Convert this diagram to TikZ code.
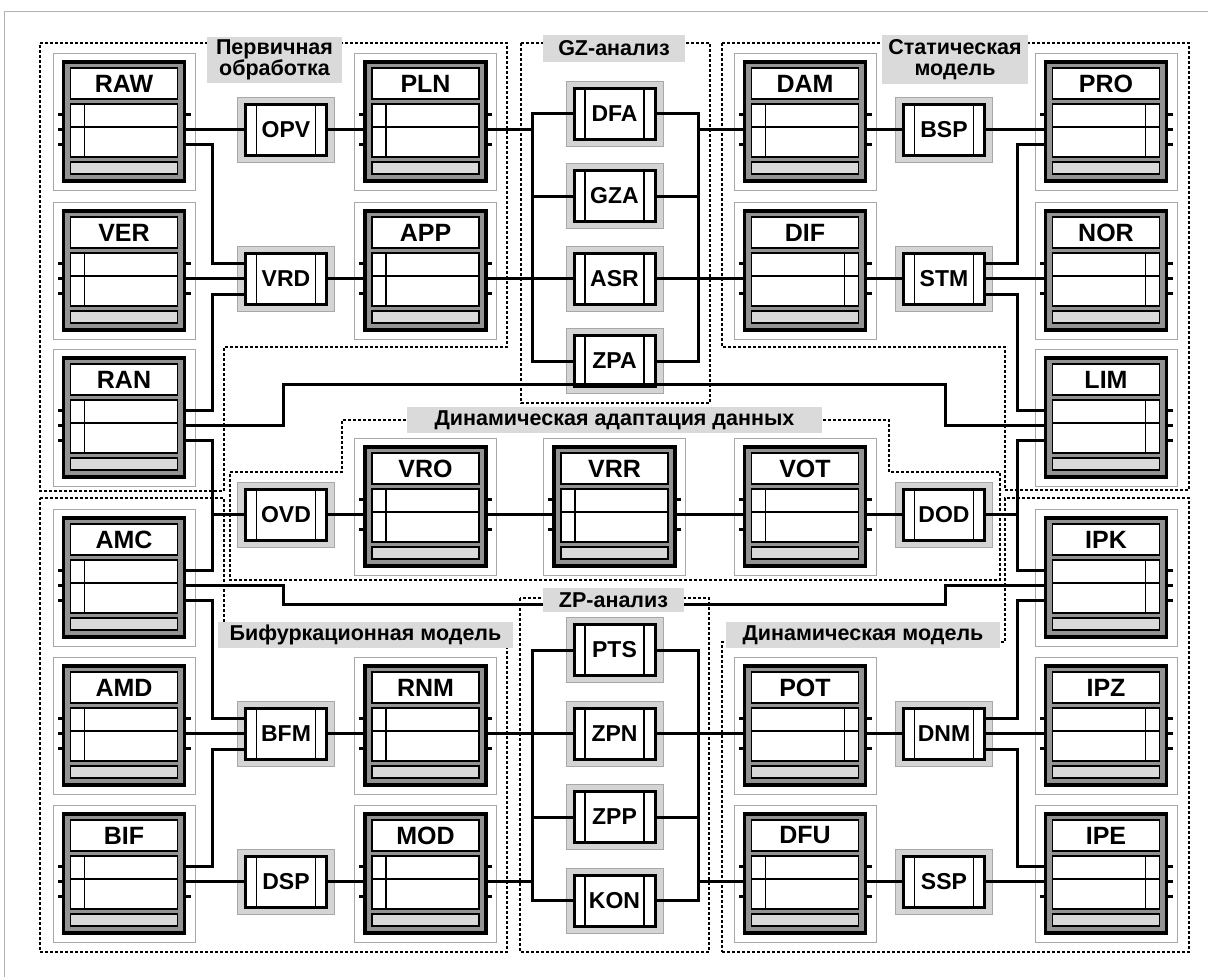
\documentclass[tikz,border=0pt]{standalone}
\usepackage{fontspec}
\setmainfont{Liberation Sans}
\usepackage{xcolor}
\usepackage{tikz}
\usetikzlibrary{calc}
\definecolor{bandgray}{HTML}{939393}
\definecolor{footgray}{HTML}{D9D9D9}
\definecolor{boxgray}{HTML}{D4D4D4}
\definecolor{labelgray}{HTML}{DADADA}
\definecolor{framegray}{HTML}{A8A8A8}

\newcommand{\bigblock}[5]{%
  \node[blkframe] (#1-f) at (#2,#3) {};
  \node[blkcore] (#1) at (#2,#3) {};
  \node[blktitle] (#1-t) at ([yshift=38pt]#1.center) {#4};
  \node[blkbody] (#1-b) at ([yshift=-9pt]#1.center) {};
  \node[blkfoot] (#1-s) at ([yshift=-46.5pt]#1.center) {};
  \draw[thinln] ([yshift=3.5pt]#1-b.west) -- ([yshift=3.5pt]#1-b.east);
  \draw[thinln] ([xshift=#5*39.5pt]#1-b.north) -- ([xshift=#5*39.5pt]#1-b.south);
  \foreach \k/\dy in {1/7,2/-8,3/-23}{
    \coordinate (#1-l\k) at ([yshift=\dy pt]#1.west);
    \coordinate (#1-r\k) at ([yshift=\dy pt]#1.east);
    \draw[stub] (#1-l\k) -- ++(-6,0);
    \draw[stub] (#1-r\k) -- ++(6,0);
  }
}

\newcommand{\smallblock}[4]{%
  \node[sframe] (#1-f) at (#2,#3) {};
  \node[score] (#1) at (#2,#3) {#4};
  \draw[thinln] ([xshift=-29.5pt]#1.north) -- ([xshift=-29.5pt]#1.south);
  \draw[thinln] ([xshift=29.5pt]#1.north) -- ([xshift=29.5pt]#1.south);
  \coordinate (#1-i1) at ([yshift=15.5pt]#1.west);
  \coordinate (#1-i2) at (#1.west);
  \coordinate (#1-i3) at ([yshift=-15.5pt]#1.west);
  \coordinate (#1-o1) at ([yshift=15.5pt]#1.east);
  \coordinate (#1-o2) at (#1.east);
  \coordinate (#1-o3) at ([yshift=-15.5pt]#1.east);
}

\begin{document}
\begin{tikzpicture}[
  x=1pt, y=1pt,
  blkframe/.style={draw=framegray, line width=1pt, fill=white, minimum width=142pt, minimum height=137pt, inner sep=0pt, outer sep=0pt},
  blkcore/.style={draw=black, line width=3.5pt, fill=bandgray, minimum width=121pt, minimum height=119pt, inner sep=0pt, outer sep=0pt},
  blktitle/.style={draw=black, line width=1.6pt, fill=white, minimum width=107pt, minimum height=31pt, inner sep=0pt, outer sep=0pt, font=\bfseries\fontsize{25}{25}\selectfont},
  blkbody/.style={draw=black, line width=1.6pt, fill=white, minimum width=107pt, minimum height=53pt, inner sep=0pt, outer sep=0pt},
  blkfoot/.style={draw=black, line width=1.6pt, fill=footgray, minimum width=107pt, minimum height=12pt, inner sep=0pt, outer sep=0pt},
  sframe/.style={draw=framegray, line width=1pt, fill=boxgray, minimum width=97pt, minimum height=65pt, inner sep=0pt, outer sep=0pt},
  score/.style={draw=black, line width=3pt, fill=white, minimum width=81pt, minimum height=51pt, inner sep=0pt, outer sep=0pt, font=\bfseries\fontsize{23}{23}\selectfont},
  grp/.style={draw=black, line width=1.3pt, dash pattern=on 3pt off 2pt},
  grplabel/.style={fill=labelgray, inner sep=0pt, align=center, font=\bfseries\fontsize{21.5}{21}\selectfont},
  wire/.style={draw=black, line width=3pt},
  stub/.style={draw=black, line width=3pt},
  thinln/.style={draw=black, line width=1.4pt}
]
\useasboundingbox (0,0) rectangle (1208,-977);
\draw[black!30, line width=1pt] (4,-977) -- (4,-11) -- (1208,-11);

\draw[grp] (40,-43) -- (507,-43) -- (507,-347) -- (224,-347) -- (224,-491) -- (40,-491) -- cycle;
\draw[grp] (521,-43) rectangle (710,-403);
\draw[grp] (722,-43) -- (1189,-43) -- (1189,-490) -- (1005,-490) -- (1005,-347) -- (722,-347) -- cycle;
\draw[grp] (230,-472) -- (342,-472) -- (342,-420) -- (889,-420) -- (889,-472) -- (1000,-472) -- (1000,-580) -- (230,-580) -- cycle;
\draw[grp] (520,-598) rectangle (709,-952);
\draw[grp] (40,-498) -- (224,-498) -- (224,-635) -- (507,-635) -- (507,-952) -- (40,-952) -- cycle;
\draw[grp] (722,-952) -- (1189,-952) -- (1189,-498) -- (1005,-498) -- (1005,-642) -- (722,-642) -- cycle;

\bigblock{RAW}{124}{-121.5}{RAW}{-1}
\bigblock{PLN}{425.5}{-121.5}{PLN}{-1}
\bigblock{DAM}{805}{-121.5}{DAM}{-1}
\bigblock{PRO}{1106}{-121.5}{PRO}{1}
\bigblock{VER}{124}{-270.5}{VER}{-1}
\bigblock{APP}{425.5}{-270.5}{APP}{-1}
\bigblock{DIF}{805}{-270.5}{DIF}{1}
\bigblock{NOR}{1106}{-270.5}{NOR}{1}
\bigblock{RAN}{124}{-417.5}{RAN}{-1}
\bigblock{LIM}{1106}{-417.5}{LIM}{1}
\bigblock{VRO}{425.5}{-506.5}{VRO}{-1}
\bigblock{VRR}{614.5}{-506.5}{VRR}{-1}
\bigblock{VOT}{805}{-506.5}{VOT}{-1}
\bigblock{AMC}{124}{-577.5}{AMC}{-1}
\bigblock{IPK}{1106}{-577.5}{IPK}{1}
\bigblock{AMD}{124}{-725.5}{AMD}{-1}
\bigblock{RNM}{425.5}{-725.5}{RNM}{-1}
\bigblock{POT}{805}{-725.5}{POT}{1}
\bigblock{IPZ}{1106}{-725.5}{IPZ}{1}
\bigblock{BIF}{124}{-873.5}{BIF}{-1}
\bigblock{MOD}{425.5}{-873.5}{MOD}{-1}
\bigblock{DFU}{805}{-873.5}{DFU}{-1}
\bigblock{IPE}{1106}{-873.5}{IPE}{1}

\smallblock{OPV}{286}{-129.5}{OPV}
\smallblock{VRD}{286}{-278.5}{VRD}
\smallblock{OVD}{286}{-514.5}{OVD}
\smallblock{BFM}{286}{-733.5}{BFM}
\smallblock{DSP}{286}{-881.5}{DSP}
\smallblock{DFA}{614.5}{-113.5}{DFA}
\smallblock{GZA}{614.5}{-196}{GZA}
\smallblock{ASR}{614.5}{-278.5}{ASR}
\smallblock{ZPA}{614.5}{-361}{ZPA}
\smallblock{PTS}{614.5}{-650}{PTS}
\smallblock{ZPN}{614.5}{-733.5}{ZPN}
\smallblock{ZPP}{614.5}{-817}{ZPP}
\smallblock{KON}{614.5}{-900.5}{KON}
\smallblock{BSP}{944}{-129.5}{BSP}
\smallblock{STM}{944}{-278.5}{STM}
\smallblock{DOD}{944}{-514.5}{DOD}
\smallblock{DNM}{944}{-733.5}{DNM}
\smallblock{SSP}{944}{-881.5}{SSP}

\coordinate (la) at (212.5,0);
\coordinate (gzl) at (532,0);
\coordinate (gzr) at (698,0);
\coordinate (rl) at (1017,0);
\coordinate (hi) at (283,-384);
\coordinate (hi2) at (945,-384);
\coordinate (lo) at (283,-604);
\coordinate (lo2) at (945,-604);

\draw[wire] (RAW-r2) -- (OPV.west) (OPV.east) -- (PLN-l2);
\draw[wire] (RAW-r3) -| (la |- VRD-i1) -- (VRD-i1);
\draw[wire] (VER-r2) -- (VRD-i2);
\draw[wire] (RAN-r1) -| (la |- VRD-i3) -- (VRD-i3);
\draw[wire] (VRD.east) -- (APP-l2);
\draw[wire] (PLN-r2) -- (gzl |- PLN-r2);
\draw[wire] (DFA.west) -| (gzl |- ZPA.west) -- (ZPA.west);
\draw[wire] (GZA.west) -- (gzl |- GZA.west);
\draw[wire] (APP-r2) -- (ASR.west);
\draw[wire] (DFA.east) -| (gzr |- ZPA.east) -- (ZPA.east);
\draw[wire] (GZA.east) -- (gzr |- GZA.east);
\draw[wire] (ASR.east) -- (DIF-l2);
\draw[wire] (gzr |- DAM-l2) -- (DAM-l2);
\draw[wire] (DAM-r2) -- (BSP.west) (BSP.east) -- (PRO-l2);
\draw[wire] (DIF-r2) -- (STM.west);
\draw[wire] (STM-o1) -| (rl |- PRO-l3) -- (PRO-l3);
\draw[wire] (STM-o2) -- (NOR-l2);
\draw[wire] (STM-o3) -| (rl |- LIM-l1) -- (LIM-l1);
\draw[wire] (RAN-r2) -| (hi) -- (hi2) |- (LIM-l2);
\draw[wire] (LIM-l3) -| (rl |- IPK-l1) -- (IPK-l1);
\draw[wire] (DOD.east) -- (rl |- DOD.east);
\draw[wire] (RAN-r3) -| (la |- AMC-r1) -- (AMC-r1);
\draw[wire] (OVD.west) -- (la |- OVD.west);
\draw[wire] (OVD.east) -- (VRO-l2);
\draw[wire] (VRO-r2) -- (VRR-l2);
\draw[wire] (VRR-r2) -- (VOT-l2);
\draw[wire] (VOT-r2) -- (DOD.west);
\draw[wire] (AMC-r2) -| (lo) -- (lo2) |- (IPK-l2);
\draw[wire] (AMC-r3) -| (la |- BFM-i1) -- (BFM-i1);
\draw[wire] (AMD-r2) -- (BFM-i2);
\draw[wire] (BIF-r1) -| (la |- BFM-i3) -- (BFM-i3);
\draw[wire] (BFM.east) -- (RNM-l2);
\draw[wire] (BIF-r2) -- (DSP.west) (DSP.east) -- (MOD-l2);
\draw[wire] (RNM-r2) -- (ZPN.west);
\draw[wire] (PTS.west) -| (gzl |- KON.west) -- (KON.west);
\draw[wire] (ZPP.west) -- (gzl |- ZPP.west);
\draw[wire] (MOD-r2) -- (gzl |- MOD-r2);
\draw[wire] (PTS.east) -| (gzr |- KON.east) -- (KON.east);
\draw[wire] (ZPP.east) -- (gzr |- ZPP.east);
\draw[wire] (ZPN.east) -- (POT-l2);
\draw[wire] (gzr |- DFU-l2) -- (DFU-l2);
\draw[wire] (POT-r2) -- (DNM.west);
\draw[wire] (DNM-o1) -| (rl |- IPK-l3) -- (IPK-l3);
\draw[wire] (DNM-o2) -- (IPZ-l2);
\draw[wire] (DNM-o3) -| (rl |- IPE-l1) -- (IPE-l1);
\draw[wire] (DFU-r2) -- (SSP.west) (SSP.east) -- (IPE-l2);

\node[grplabel, minimum width=135pt, minimum height=46pt] (lblpre) at (274.5,-60) {Первичная\\обработка};
\node[grplabel, minimum width=142pt, minimum height=27pt] (lblgz) at (614,-48.5) {GZ-анализ};
\node[grplabel, minimum width=146pt, minimum height=49pt] (lblstat) at (955,-59.5) {Статическая\\модель};
\node[grplabel, minimum width=415pt, minimum height=26pt] (lbldad) at (614.5,-420) {Динамическая адаптация данных};
\node[grplabel, minimum width=141pt, minimum height=24pt] (lblzp) at (613.5,-600) {ZP-анализ};
\node[grplabel, minimum width=295pt, minimum height=26pt] (lblbif) at (365.5,-635) {Бифуркационная модель};
\node[grplabel, minimum width=274pt, minimum height=26pt] (lbldyn) at (863,-635) {Динамическая модель};
\end{tikzpicture}
\end{document}
